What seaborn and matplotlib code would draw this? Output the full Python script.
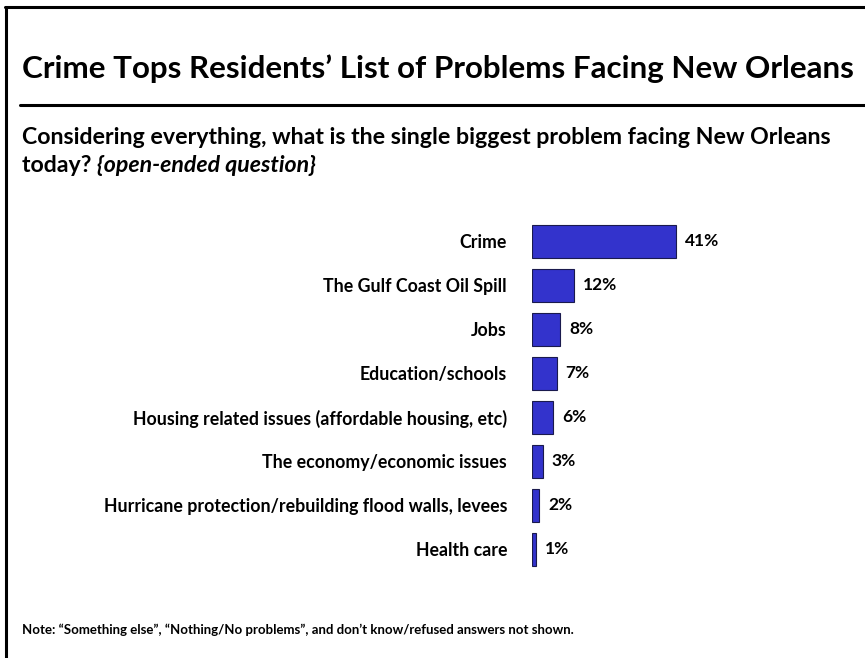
import matplotlib
matplotlib.use("Agg")
import matplotlib.pyplot as plt
from matplotlib.lines import Line2D
import seaborn as sns
import pandas as pd

categories = [
    "Crime",
    "The Gulf Coast Oil Spill",
    "Jobs",
    "Education/schools",
    "Housing related issues (affordable housing, etc)",
    "The economy/economic issues",
    "Hurricane protection/rebuilding flood walls, levees",
    "Health care",
]
values = [41, 12, 8, 7, 6, 3, 2, 1]

title = "Crime Tops Residents\u2019 List of Problems Facing New Orleans"
question = "Considering everything, what is the single biggest problem facing New Orleans"
question_2a = "today? "
question_2b = "{open-ended question}"
note = ("Note: \u201cSomething else\u201d, \u201cNothing/No problems\u201d, and don\u2019t "
        "know/refused answers not shown.")

sns.set_style("white")
plt.rcParams["font.family"] = ["Lato", "DejaVu Sans"]
plt.rcParams["text.color"] = "black"
plt.rcParams["ytick.color"] = "black"

df = pd.DataFrame({"problem": categories, "pct": values})

W, H = 865, 658
fig = plt.figure(figsize=(W / 100, H / 100), dpi=100)
fig.patch.set_facecolor("white")

ax = fig.add_axes([532 / W, 1 - 571 / H, 160 / W, 352 / H])
sns.barplot(data=df, x="pct", y="problem", orient="h", ax=ax,
            color="#3333CC", saturation=1, width=0.75,
            edgecolor="#1a1a4d", linewidth=0.8)
ax.set_xlim(0, 160 / 3.51)
ax.set_ylim(len(categories) - 0.5, -0.5)
for s in ax.spines.values():
    s.set_visible(False)
ax.set_xticks([])
ax.set_xlabel("")
ax.set_ylabel("")
ax.tick_params(axis="y", length=0, pad=18)
for lbl in ax.get_yticklabels():
    lbl.set_fontweight("bold")
    lbl.set_fontsize(12.8)
    lbl.set_color("black")

for i, v in enumerate(values):
    ax.text(v + 2.6, i, f"{v}%", va="center", ha="left",
            fontsize=12.5, fontweight="bold", color="black")

# frame lines
fig.add_artist(Line2D([6 / W, 6 / W], [0, 1 - 7 / H], color="black", lw=2.2))
fig.add_artist(Line2D([5 / W, 1], [1 - 7 / H, 1 - 7 / H], color="black", lw=2.2))
fig.add_artist(Line2D([20 / W, 1], [1 - 105 / H, 1 - 105 / H], color="black", lw=2.2))

fig.text(438 / W, 1 - 69 / H, title, ha="center", va="center",
         fontsize=22.6, fontweight="bold")
fig.text(22 / W, 1 - 137 / H, question, ha="left", va="center",
         fontsize=16.7, fontweight="bold")
t = fig.text(22 / W, 1 - 165 / H, question_2a, ha="left", va="center",
             fontsize=16.7, fontweight="bold")
fig.canvas.draw()
bb = t.get_window_extent()
fig.text(bb.x1 / W, 1 - 165 / H, question_2b, ha="left", va="center",
         fontsize=16.7, fontweight="bold", style="italic")
fig.text(22 / W, 1 - 630 / H, note, ha="left", va="center",
         fontsize=9.5, fontweight="bold")

fig.savefig("out.png", dpi=100)
